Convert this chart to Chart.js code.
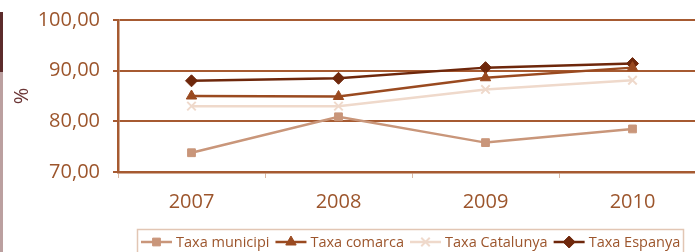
<!DOCTYPE html>
<html lang="ca">
<head>
  <meta charset="UTF-8">
  <title>Taxa</title>
  <script src="https://cdn.jsdelivr.net/npm/chart.js"></script>
  <style>
    body {
      margin: 0;
      padding: 0;
      background: #fff;
      overflow: hidden;
      width: 695px;
      height: 252px;
      position: relative;
    }
    .barra-fosca {
      position: absolute; left: 0; top: 12px; width: 3px; height: 60px; background: #5c2b2b;
    }
    .barra-clara {
      position: absolute; left: 0; top: 72px; width: 3px; height: 180px; background: #bba0a0;
    }
    #wrap {
      position: absolute; left: 0; top: 0; width: 720px; height: 252px;
    }
  </style>
</head>
<body>
  <div class="barra-fosca"></div>
  <div class="barra-clara"></div>
  <div id="wrap"><canvas id="grafic"></canvas></div>

  <script>
    const anys = ['2007', '2008', '2009', '2010'];
    const taxaMunicipi = [73.8, 80.9, 75.8, 78.5];
    const taxaComarca = [85.0, 84.9, 88.6, 90.6];
    const taxaCatalunya = [83.0, 83.0, 86.3, 88.1];
    const taxaEspanya = [88.0, 88.5, 90.6, 91.4];
    const yTicks = [70, 80, 90, 100];

    const marro = '#a65a31';
    const textColor = '#9c552c';

    // llegenda amb línia + marcador, com l'original
    const llegenda = {
      id: 'llegenda',
      afterDraw(chart) {
        const ctx = chart.ctx;
        ctx.save();
        ctx.strokeStyle = '#e2c6b4';
        ctx.lineWidth = 1.5;
        ctx.strokeRect(137.5, 229.5, 546, 40);
        ctx.font = '14.5px "Open Sans"';
        ctx.textBaseline = 'middle';
        let x = 141;
        const y = 242;
        chart.data.datasets.forEach(ds => {
          ctx.strokeStyle = ds.borderColor;
          ctx.fillStyle = ds.borderColor;
          ctx.lineWidth = 2.5;
          ctx.beginPath();
          ctx.moveTo(x, y);
          ctx.lineTo(x + 31, y);
          ctx.stroke();
          ctx.lineWidth = ds.pointBorderWidth;
          Chart.helpers.drawPoint(ctx, {
            pointStyle: ds.pointStyle,
            radius: ds.pointRadius,
            borderWidth: ds.pointBorderWidth
          }, x + 15.5, y);
          ctx.fillStyle = textColor;
          ctx.fillText(ds.label, x + 35, y + 1);
          x += 35 + ctx.measureText(ds.label).width + 6;
        });
        ctx.restore();
      }
    };

    function serie(label, data, color, style, radius) {
      return {
        label: label,
        data: data,
        borderColor: color,
        backgroundColor: color,
        pointBackgroundColor: color,
        pointBorderColor: color,
        pointStyle: style,
        pointRadius: radius,
        pointBorderWidth: style === 'crossRot' ? 2 : 1,
        borderWidth: 2.5,
        tension: 0
      };
    }

    new Chart(document.getElementById('grafic'), {
      type: 'line',
      data: {
        labels: anys,
        datasets: [
          serie('Taxa municipi', taxaMunicipi, '#c9967a', 'rect', 5.5),
          serie('Taxa comarca', taxaComarca, '#9a4a20', 'triangle', 6),
          serie('Taxa Catalunya', taxaCatalunya, '#efd9cb', 'crossRot', 6),
          serie('Taxa Espanya', taxaEspanya, '#6e270b', 'rectRot', 6)
        ]
      },
      options: {
        responsive: true,
        maintainAspectRatio: false,
        animation: false,
        layout: { padding: { top: 20, right: 14, left: 0, bottom: 0 } },
        plugins: {
          legend: { display: false },
          tooltip: { enabled: false }
        },
        scales: {
          x: {
            offset: true,
            afterFit: s => { s.height = 80; s.paddingLeft = 0; s.paddingRight = 0; },
            grid: {
              drawOnChartArea: false,
              drawTicks: true,
              tickLength: 6,
              offset: true,
              color: '#d9b9a5',
              lineWidth: 1
            },
            border: { color: marro, width: 2.5 },
            ticks: {
              color: textColor,
              padding: 12,
              font: { family: 'Open Sans', size: 20 }
            }
          },
          y: {
            min: 70,
            max: 100,
            afterFit: s => { s.width = 118; s.paddingTop = 0; s.paddingBottom = 0; },
            afterBuildTicks: s => { s.ticks = yTicks.map(v => ({ value: v })); },
            grid: {
              color: marro,
              lineWidth: 2,
              tickLength: 5
            },
            border: { color: marro, width: 2.5 },
            ticks: {
              color: textColor,
              padding: 13,
              font: { family: 'Open Sans', size: 20 },
              callback: v => v.toFixed(2).replace('.', ',')
            },
            title: {
              display: true,
              text: '%',
              color: '#6b3535',
              padding: { top: 10, bottom: 0 },
              font: { family: 'Open Sans', size: 20 }
            }
          }
        }
      },
      plugins: [llegenda]
    });
  </script>
</body>
</html>
